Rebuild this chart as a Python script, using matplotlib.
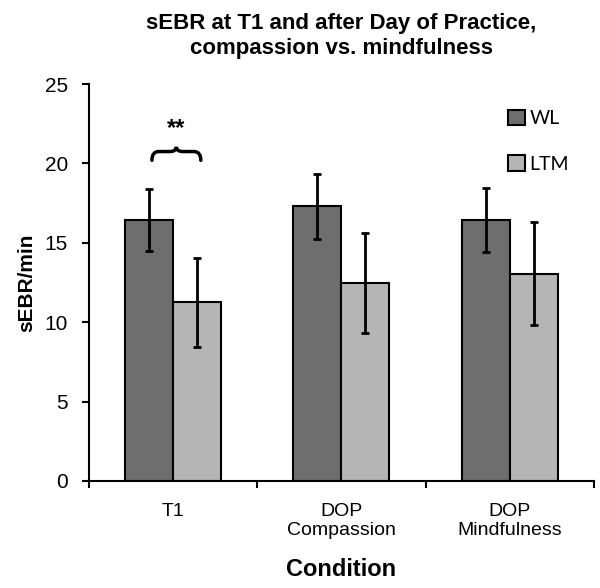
import matplotlib.pyplot as plt
import numpy as np
from matplotlib.path import Path
from matplotlib.patches import PathPatch

plt.rcParams['font.family'] = ['Liberation Sans', 'DejaVu Sans']

# data
conditions = ["T1", "DOP\nCompassion", "DOP\nMindfulness"]
wl_mean = [16.45, 17.3, 16.45]
wl_err = [1.95, 2.05, 2.0]
ltm_mean = [11.25, 12.5, 13.05]
ltm_err = [2.8, 3.15, 3.25]

fig = plt.figure(figsize=(6, 5.88), dpi=100)
ax = fig.add_axes([0.148, 0.182, 0.842, 0.675])

x = np.arange(len(conditions)) + 0.5
w = 0.285
err_kw = dict(ecolor='black', elinewidth=2, capsize=3, capthick=2)
ax.bar(x - w / 2, wl_mean, w, yerr=wl_err, color='#6e6e6e', edgecolor='black',
       linewidth=1.5, label='WL', error_kw=err_kw)
ax.bar(x + w / 2, ltm_mean, w, yerr=ltm_err, color='#b5b5b5', edgecolor='black',
       linewidth=1.5, label='LTM', error_kw=err_kw)

ax.set_xlim(0, 3)
ax.set_ylim(0, 25)
ax.set_yticks([0, 5, 10, 15, 20, 25])
ax.set_xticks(x)
ax.set_xticklabels(conditions, linespacing=1.1)
ax.set_xticks([0, 1, 2, 3], minor=True)
ax.tick_params(axis='x', which='major', length=0, pad=16, labelsize=14)
ax.tick_params(axis='x', which='minor', length=5, width=1.5, direction='out')
ax.tick_params(axis='y', length=5, width=1.5, labelsize=15, pad=10)
for s in ['top', 'right']:
    ax.spines[s].set_visible(False)
for s in ['left', 'bottom']:
    ax.spines[s].set_linewidth(1.5)

ax.set_xlabel('Condition', fontsize=17, fontweight='bold', labelpad=14)
ax.set_ylabel('sEBR/min', fontsize=15, fontweight='bold', labelpad=6)
ax.set_title('sEBR at T1 and after Day of Practice,\ncompassion vs. mindfulness',
             fontsize=16, fontweight='bold', pad=22, linespacing=1.2)

# significance brace over T1
cx, hw = x[0] + 0.02, 0.145
yb, yh, yt = 20.2, 20.75, 21.05
r = 0.04
verts = [(cx - hw, yb), (cx - hw, yh), (cx - hw + r, yh),
         (cx - r, yh), (cx, yh), (cx, yt),
         (cx, yh), (cx + r, yh),
         (cx + hw - r, yh), (cx + hw, yh), (cx + hw, yb)]
codes = [Path.MOVETO, Path.CURVE3, Path.CURVE3,
         Path.LINETO, Path.CURVE3, Path.CURVE3,
         Path.CURVE3, Path.CURVE3,
         Path.LINETO, Path.CURVE3, Path.CURVE3]
ax.add_patch(PathPatch(Path(verts, codes), fill=False, lw=2.5, color='black',
                       capstyle='round', clip_on=False))
ax.text(cx, 21.5, '**', ha='center', va='bottom', fontsize=17, fontweight='bold')

ax.legend(loc='upper right', bbox_to_anchor=(0.985, 0.98), frameon=False,
          prop={'family': 'Lato', 'size': 14},
          handlelength=0.85, handleheight=0.85, labelspacing=1.45, handletextpad=0.25)

fig.savefig('out.png')
